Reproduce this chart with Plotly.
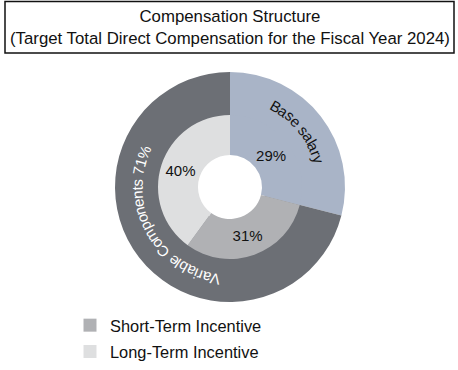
import math
import plotly.graph_objects as go

# ---------------- data ----------------
title_lines = ["Compensation Structure",
               "(Target Total Direct Compensation for the Fiscal Year 2024)"]
inner_labels = ["Base salary", "Short-Term Incentive", "Long-Term Incentive"]
inner_values = [29, 31, 40]
outer_labels = ["Base salary", "Variable Components"]
outer_values = [29, 71]
outer_texts = ["Base salary", "Variable Components 71%"]
legend_labels = ["Short-Term Incentive", "Long-Term Incentive"]

# ---------------- style ----------------
W, H = 458, 370
CX, CY = 230, 187
R_OUT, R_MID, R_HOLE = 115, 72, 32
FONT = "Arial, Liberation Sans, sans-serif"
C_BASE = "#A9B4C7"
C_VAR = "#6C6F75"
C_STI = "#B0B1B4"
C_LTI = "#DEDFE0"
inner_colors = [C_BASE, C_STI, C_LTI]
outer_colors = [C_BASE, C_VAR]
legend_colors = [C_STI, C_LTI]
outer_text_colors = ["#111111", "#FFFFFF"]
outer_text_offsets = [-1.5, 9.0]   # degrees shift of curved label centre
CURVE_FONT = 15
R_TEXT = 93

def px_to_paper_x(px):
    return px / W

def px_to_paper_y(py):
    return 1 - py / H

fig = go.Figure()

# outer ring (drawn full depth underneath the inner ring)
fig.add_trace(go.Pie(
    labels=outer_labels, values=outer_values, sort=False, direction="clockwise",
    rotation=0, hole=(R_HOLE + 4) / R_OUT, textinfo="none", showlegend=False,
    marker=dict(colors=outer_colors, line=dict(width=0)),
    domain=dict(x=[px_to_paper_x(CX - R_OUT), px_to_paper_x(CX + R_OUT)],
                y=[px_to_paper_y(CY + R_OUT), px_to_paper_y(CY - R_OUT)]),
    hoverinfo="label+percent",
))

# inner ring
fig.add_trace(go.Pie(
    labels=inner_labels, values=inner_values, sort=False, direction="clockwise",
    rotation=0, hole=R_HOLE / R_MID, textinfo="percent", textposition="inside",
    insidetextorientation="horizontal", showlegend=False,
    textfont=dict(family=FONT, size=15, color="#111111"),
    marker=dict(colors=inner_colors, line=dict(width=0)),
    domain=dict(x=[px_to_paper_x(CX - R_MID), px_to_paper_x(CX + R_MID)],
                y=[px_to_paper_y(CY + R_MID), px_to_paper_y(CY - R_MID)]),
    hoverinfo="label+percent",
))

# legend entries
for i, (lab, col) in enumerate(zip(legend_labels, legend_colors)):
    fig.add_trace(go.Scatter(
        x=[None], y=[None], mode="markers", name=lab, legendgroup=f"g{i}",
        marker=dict(symbol="square", size=13, color=col, line=dict(width=0)),
    ))

# curved labels on the outer ring
ARIAL_W = {
    "V": 667, "a": 556, "r": 333, "i": 222, "b": 556, "l": 222, "e": 556,
    " ": 278, "C": 722, "o": 556, "m": 833, "p": 556, "n": 556, "t": 278,
    "s": 500, "7": 556, "1": 556, "%": 889, "B": 667, "y": 500,
}
annotations = []
total = sum(outer_values)
cum = 0
for val, txt, tcol, off in zip(outer_values, outer_texts, outer_text_colors, outer_text_offsets):
    start = cum / total * 360
    cum += val
    end = cum / total * 360
    mid = (start + end) / 2 + off
    widths = [ARIAL_W.get(ch, 556) / 1000 * CURVE_FONT for ch in txt]
    tot_w = sum(widths)
    theta0 = mid - math.degrees(tot_w / 2 / R_TEXT)
    acc = 0
    for ch, w in zip(txt, widths):
        th = theta0 + math.degrees((acc + w / 2) / R_TEXT)
        acc += w
        if ch == " ":
            continue
        rad = math.radians(th)
        x = CX + R_TEXT * math.sin(rad)
        y = CY - R_TEXT * math.cos(rad)
        ang = ((th + 180) % 360) - 180
        annotations.append(dict(
            text=ch, x=px_to_paper_x(x), y=px_to_paper_y(y), xref="paper", yref="paper",
            xanchor="center", yanchor="middle", showarrow=False, textangle=ang,
            font=dict(family=FONT, size=CURVE_FONT, color=tcol),
        ))

# title
annotations.append(dict(
    text="<br>".join(title_lines), x=px_to_paper_x(229.5), y=px_to_paper_y(27.5),
    xref="paper", yref="paper", xanchor="center", yanchor="middle", showarrow=False,
    font=dict(family=FONT, size=16.8, color="#111111"),
))

fig.update_layout(
    width=W, height=H, margin=dict(l=0, r=0, t=0, b=0),
    paper_bgcolor="white", plot_bgcolor="white",
    xaxis=dict(visible=False), yaxis=dict(visible=False),
    annotations=annotations,
    shapes=[dict(type="rect", xref="paper", yref="paper",
                 x0=px_to_paper_x(5), x1=px_to_paper_x(454),
                 y0=px_to_paper_y(53), y1=px_to_paper_y(1.5),
                 line=dict(color="#111111", width=1.5))],
    legend=dict(x=px_to_paper_x(70), y=px_to_paper_y(308), xanchor="left", yanchor="top",
                font=dict(family=FONT, size=16.4, color="#111111"),
                tracegroupgap=2, bgcolor="rgba(0,0,0,0)"),
    showlegend=True,
)

fig.write_html("out.html", config={"displayModeBar": False},
               post_script="document.body.style.margin='0px';")
